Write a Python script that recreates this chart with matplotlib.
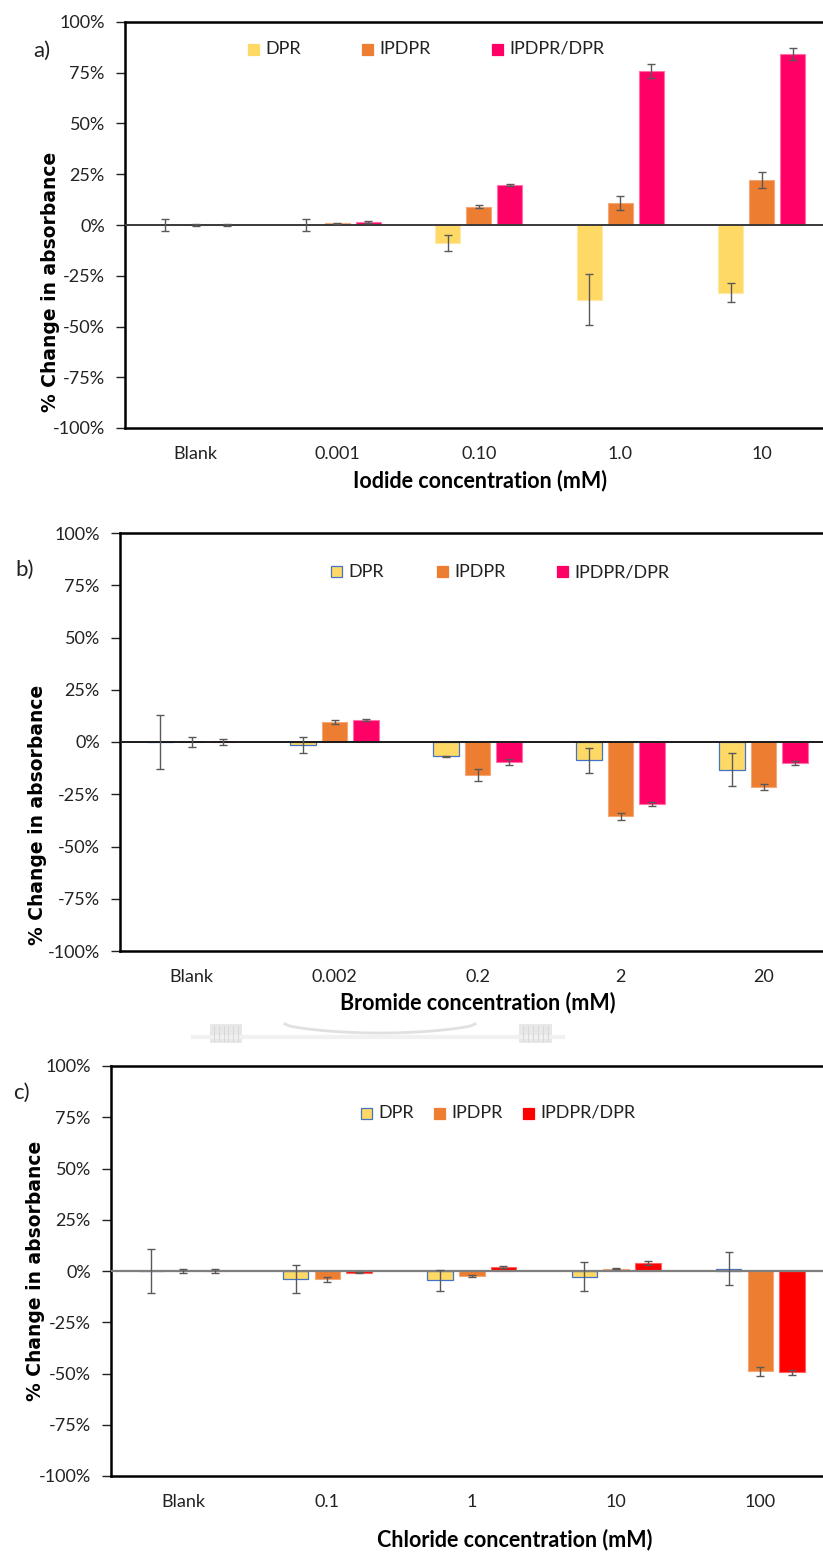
import matplotlib
matplotlib.use("Agg")
import matplotlib.pyplot as plt
import numpy as np
from matplotlib.patches import Rectangle
from matplotlib.lines import Line2D
from matplotlib.ticker import FuncFormatter

W, H = 823, 1555
plt.rcParams['font.family'] = ['Lato', 'DejaVu Sans']

series_names = ['DPR', 'IPDPR', 'IPDPR/DPR']

# a) iodide
iodide_labels = ['Blank', '0.001', '0.10', '1.0', '10']
iodide_dpr = [0.0, 0.0, -8.7, -36.8, -33.3]
iodide_dpr_err = [3.0, 3.0, 4.0, 12.6, 4.8]
iodide_ipdpr = [0.0, 0.8, 9.0, 10.8, 22.0]
iodide_ipdpr_err = [0.3, 0.4, 0.7, 3.4, 4.0]
iodide_ratio = [0.0, 1.5, 19.7, 75.9, 84.2]
iodide_ratio_err = [0.3, 0.4, 0.5, 3.4, 2.9]

# b) bromide
bromide_labels = ['Blank', '0.002', '0.2', '2', '20']
bromide_dpr = [0.0, -1.4, -6.9, -8.8, -13.2]
bromide_dpr_err = [12.8, 3.9, 0.3, 6.0, 7.7]
bromide_ipdpr = [0.0, 9.4, -15.6, -35.6, -21.5]
bromide_ipdpr_err = [2.5, 1.0, 2.9, 1.7, 1.4]
bromide_ratio = [0.0, 10.5, -9.6, -29.7, -10.0]
bromide_ratio_err = [1.5, 0.4, 1.4, 1.0, 1.0]

# c) chloride
chloride_labels = ['Blank', '0.1', '1', '10', '100']
chloride_dpr = [0.0, -4.0, -4.5, -2.8, 1.2]
chloride_dpr_err = [10.6, 6.8, 5.1, 7.0, 8.0]
chloride_ipdpr = [0.0, -4.1, -2.3, 1.2, -49.0]
chloride_ipdpr_err = [1.2, 1.2, 0.4, 0.4, 2.2]
chloride_ratio = [0.0, -0.8, 1.8, 4.0, -49.5]
chloride_ratio_err = [1.2, 0.3, 0.4, 1.0, 1.2]

YELLOW = '#FFD966'
ORANGE = '#ED7D31'
PINK = '#FF0066'
RED = '#FF0000'
BLUE_EDGE = '#4472C4'
ERR = '#595959'


def fx(x):
    return x / W


def fy(y):
    return 1 - y / H


fig = plt.figure(figsize=(W / 100, H / 100), dpi=100)

panels = [
    dict(left=125, top=22, bottom=428, step=141.5,
         labels=iodide_labels,
         data=[(iodide_dpr, iodide_dpr_err), (iodide_ipdpr, iodide_ipdpr_err),
               (iodide_ratio, iodide_ratio_err)],
         colors=[YELLOW, ORANGE, PINK],
         edges=['#FFE9A8', '#F4A878', '#FF70A8'],
         edge_w=[0.8, 0.8, 0.8],
         zero=('#3a3a3a', 1.4),
         tag='a)', tag_xy=(42, 51),
         xlabel='Iodide concentration (mM)', xlabel_xy=(480, 481),
         ylabel_xy=(51, 282),
         legend_y=49, legend_sq=[248, 362, 492]),
    dict(left=120, top=533, bottom=951, step=143.0,
         labels=bromide_labels,
         data=[(bromide_dpr, bromide_dpr_err), (bromide_ipdpr, bromide_ipdpr_err),
               (bromide_ratio, bromide_ratio_err)],
         colors=[YELLOW, ORANGE, PINK],
         edges=[BLUE_EDGE, '#F4A878', '#FF70A8'],
         edge_w=[0.9, 0.8, 0.8],
         zero=('#1a1a1a', 1.4),
         tag='b)', tag_xy=(25, 570),
         xlabel='Bromide concentration (mM)', xlabel_xy=(478, 1003),
         ylabel_xy=(38, 815),
         legend_y=572, legend_sq=[331, 437, 557]),
    dict(left=111, top=1066, bottom=1476, step=144.3,
         labels=chloride_labels,
         data=[(chloride_dpr, chloride_dpr_err), (chloride_ipdpr, chloride_ipdpr_err),
               (chloride_ratio, chloride_ratio_err)],
         colors=[YELLOW, ORANGE, RED],
         edges=[BLUE_EDGE, '#F4A878', '#FF6060'],
         edge_w=[0.9, 0.8, 0.8],
         zero=('#7f7f7f', 1.6),
         tag='c)', tag_xy=(21, 1093),
         xlabel='Chloride concentration (mM)', xlabel_xy=(515, 1540),
         ylabel_xy=(36, 1271),
         legend_y=1113, legend_sq=[361, 434, 523]),
]

bar_w = 0.177
offsets = [-0.22, 0.0, 0.22]

for p in panels:
    n = len(p['labels'])
    right = p['left'] + p['step'] * n
    ax = fig.add_axes([fx(p['left']), fy(p['bottom']),
                       (right - p['left']) / W, (p['bottom'] - p['top']) / H])
    x = np.arange(n)
    for (vals, errs), off, c, ec, lw in zip(p['data'], offsets, p['colors'],
                                            p['edges'], p['edge_w']):
        ax.bar(x + off, vals, width=bar_w, color=c, edgecolor=ec,
               linewidth=lw, zorder=2)
        ax.errorbar(x + off, vals, yerr=errs, fmt='none', ecolor=ERR,
                    elinewidth=1.0, capsize=2.6, capthick=1.0, zorder=4)
    ax.axhline(0, color=p['zero'][0], lw=p['zero'][1], zorder=3)
    ax.set_xlim(-0.5, n - 0.5)
    ax.set_ylim(-100, 100)
    ax.set_yticks(np.arange(-100, 101, 25))
    ax.yaxis.set_major_formatter(FuncFormatter(lambda v, pos: f"{int(round(v))}%"))
    ax.set_xticks(x)
    ax.set_xticklabels(p['labels'])
    ax.tick_params(axis='y', direction='out', length=6.5, width=1.0,
                   pad=8, labelsize=13, colors='#222222')
    ax.tick_params(axis='x', length=0, pad=13, labelsize=13, colors='#222222')
    for side in ('left', 'top', 'bottom'):
        ax.spines[side].set_linewidth(1.8)
        ax.spines[side].set_color('black')
    ax.spines['right'].set_visible(False)

    # panel tag
    fig.text(fx(p['tag_xy'][0]), fy(p['tag_xy'][1]), p['tag'], fontsize=16,
             ha='center', va='center', color='#222222')
    # axis titles
    fig.text(fx(p['xlabel_xy'][0]), fy(p['xlabel_xy'][1]), p['xlabel'],
             fontsize=15.5, fontweight='bold', ha='center', va='center')
    fig.text(fx(p['ylabel_xy'][0]), fy(p['ylabel_xy'][1]),
             '% Change in absorbance', fontsize=13.5, fontweight='bold',
             rotation=90, ha='center', va='center', family='DejaVu Sans')

    # legend row
    for name, c, ec, sx in zip(series_names, p['colors'], p['edges'], p['legend_sq']):
        sq = 11
        fig.patches.append(Rectangle((fx(sx), fy(p['legend_y'] + sq / 2)),
                                     sq / W, sq / H, facecolor=c,
                                     edgecolor=ec if ec == BLUE_EDGE else c,
                                     linewidth=0.9, transform=fig.transFigure))
        fig.text(fx(sx + sq + 6), fy(p['legend_y']), name, fontsize=13,
                 ha='left', va='center', color='#222222')

# faint scroll-bar graphic between panels b and c
light = '#e8e8e8'
fig.add_artist(Line2D([fx(193), fx(563)], [fy(1037), fy(1037)], color='#f1f1f1',
                      lw=3, transform=fig.transFigure))
for x0, x1 in [(210, 242), (519, 552)]:
    fig.patches.append(Rectangle((fx(x0), fy(1043)), (x1 - x0) / W, 19 / H,
                                 facecolor=light, edgecolor='none',
                                 transform=fig.transFigure))
    for xs in np.linspace(x0 + 4, x1 - 4, 6):
        fig.add_artist(Line2D([fx(xs), fx(xs)], [fy(1026), fy(1041)],
                              color='#d8d8d8', lw=0.8, transform=fig.transFigure))
t = np.linspace(0, 1, 60)
arc_x = 285 + 190 * t
arc_y = 1024 + 9 * np.sin(np.pi * t) ** 0.6
fig.add_artist(Line2D(fx(arc_x), fy(arc_y), color='#e0e0e0', lw=2,
                      transform=fig.transFigure))

fig.savefig('out.png', dpi=100)
